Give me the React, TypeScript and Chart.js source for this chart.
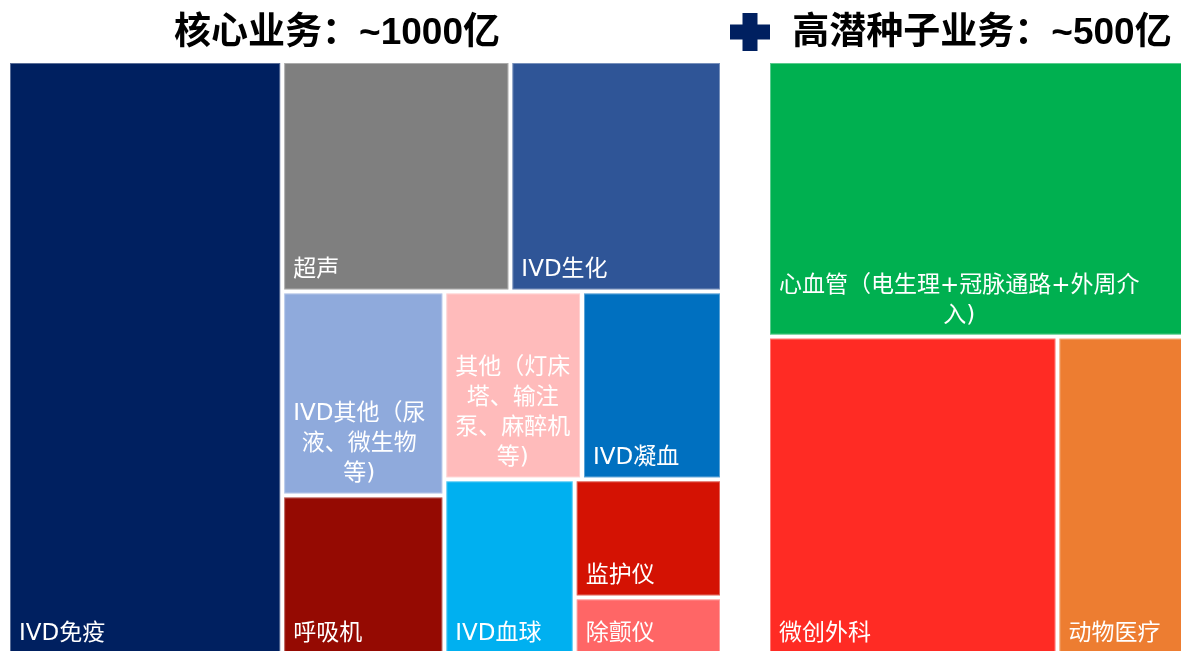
import { useEffect, useRef } from 'react';
import { Chart, registerables } from 'chart.js';

Chart.register(...registerables);

// ---- Data ----
const coreTitle = '核心业务：~1000亿';
const coreLabels: string[][] = [
  ['IVD免疫'],
  ['超声'],
  ['IVD生化'],
  ['IVD其他（尿', '液、微生物', '等)'],
  ['呼吸机'],
  ['其他（灯床', '塔、输注', '泵、麻醉机', '等)'],
  ['IVD凝血'],
  ['IVD血球'],
  ['监护仪'],
  ['除颤仪'],
];
const coreValues = [384, 124, 115, 78, 61, 61, 62, 54, 41, 20];
const coreColors = ['#002060', '#7F7F7F', '#2F5597', '#8FAADC', '#950A02', '#FFBBBB', '#0070C0', '#00B0F0', '#D41203', '#FF6666'];

const seedTitle = '高潜种子业务：~500亿';
const seedLabels: string[][] = [
  ['心血管（电生理+冠脉通路+外周介', '入)'],
  ['微创外科'],
  ['动物医疗'],
];
const seedValues = [232, 186, 82];
const seedColors = ['#00B050', '#FF2B24', '#ED7D31'];

// ---- Layout structure (nesting of slices) ----
type Node = number | { dir: 'h' | 'v'; children: Node[] };
const coreTree: Node = {
  dir: 'h',
  children: [
    0,
    {
      dir: 'v',
      children: [
        { dir: 'h', children: [1, 2] },
        {
          dir: 'h',
          children: [
            { dir: 'v', children: [3, 4] },
            {
              dir: 'v',
              children: [
                { dir: 'h', children: [5, 6] },
                { dir: 'h', children: [7, { dir: 'v', children: [8, 9] }] },
              ],
            },
          ],
        },
      ],
    },
  ],
};
const seedTree: Node = { dir: 'v', children: [0, { dir: 'h', children: [1, 2] }] };

// group frames in axis units
const coreFrame = { x0: 8, x1: 722, y0: 61, y1: 655 };
const seedFrame = { x0: 768, x1: 1185, y0: 61, y1: 655 };

type Rect = { x0: number; y0: number; x1: number; y1: number };

function nodeSum(n: Node, vals: number[]): number {
  if (typeof n === 'number') return vals[n];
  return n.children.reduce((a, c) => a + nodeSum(c, vals), 0);
}

function layoutTree(n: Node, vals: number[], r: Rect, out: Rect[]) {
  if (typeof n === 'number') {
    out[n] = r;
    return;
  }
  const total = nodeSum(n, vals);
  let pos = n.dir === 'h' ? r.x0 : r.y0;
  const span = n.dir === 'h' ? r.x1 - r.x0 : r.y1 - r.y0;
  for (const c of n.children) {
    const s = (nodeSum(c, vals) / total) * span;
    if (n.dir === 'h') layoutTree(c, vals, { x0: pos, x1: pos + s, y0: r.y0, y1: r.y1 }, out);
    else layoutTree(c, vals, { x0: r.x0, x1: r.x1, y0: pos, y1: pos + s }, out);
    pos += s;
  }
}

const LABEL_FONT = '"DejaVu Sans", "Noto Sans CJK SC", sans-serif';
const TITLE_FONT = '"Liberation Sans", "Noto Sans CJK SC", sans-serif';

const treemapPlugin = {
  id: 'treemapDraw',
  afterDraw(chart: any) {
    const ctx: CanvasRenderingContext2D = chart.ctx;
    const xs = chart.scales.x;
    const ys = chart.scales.y;
    const groups = [
      { tree: coreTree, vals: coreValues, labels: coreLabels, colors: coreColors, frame: coreFrame },
      { tree: seedTree, vals: seedValues, labels: seedLabels, colors: seedColors, frame: seedFrame },
    ];
    ctx.save();
    for (const g of groups) {
      const rects: Rect[] = [];
      layoutTree(g.tree, g.vals, g.frame, rects);
      rects.forEach((r, i) => {
        const px0 = xs.getPixelForValue(r.x0) + 2;
        const px1 = xs.getPixelForValue(r.x1) - 2;
        const py0 = ys.getPixelForValue(r.y0) + 2;
        const py1 = ys.getPixelForValue(r.y1) - 2;
        ctx.fillStyle = g.colors[i];
        ctx.fillRect(px0, py0, px1 - px0, py1 - py0);
        ctx.strokeStyle = 'rgba(255,255,255,0.35)';
        ctx.lineWidth = 1;
        ctx.strokeRect(px0 + 0.5, py0 + 0.5, px1 - px0 - 1, py1 - py0 - 1);
        // label
        const lines = g.labels[i];
        ctx.font = `400 23px ${LABEL_FONT}`;
        ctx.fillStyle = '#FFFFFF';
        ctx.textAlign = 'center';
        ctx.textBaseline = 'middle';
        const maxW = Math.max(...lines.map((l) => ctx.measureText(l).width));
        const cx = px0 + 9 + maxW / 2;
        const n = lines.length;
        lines.forEach((l, k) => {
          const y = py1 - 19 - (n - 1 - k) * 30;
          ctx.fillText(l, cx, y);
        });
      });
    }
    // titles
    ctx.fillStyle = '#000000';
    ctx.font = `700 37px ${TITLE_FONT}`;
    ctx.textAlign = 'center';
    ctx.textBaseline = 'middle';
    ctx.fillText(coreTitle, xs.getPixelForValue(337), ys.getPixelForValue(34));
    ctx.fillText(seedTitle, xs.getPixelForValue(982), ys.getPixelForValue(34));
    // plus sign
    const pcx = xs.getPixelForValue(750);
    const pcy = ys.getPixelForValue(32);
    ctx.fillStyle = '#002060';
    ctx.fillRect(pcx - 20, pcy - 7.5, 40, 15);
    ctx.fillRect(pcx - 7.5, pcy - 19, 15, 38);
    ctx.restore();
  },
};

export default function App() {
  const ref = useRef<HTMLCanvasElement | null>(null);
  useEffect(() => {
    if (!ref.current) return;
    const chart = new Chart(ref.current, {
      type: 'scatter',
      data: { datasets: [{ label: 'treemap', data: [] }] },
      options: {
        animation: false,
        responsive: false,
        layout: { padding: 0 },
        events: [],
        scales: {
          x: { type: 'linear', min: 0, max: 1181, display: false },
          y: { type: 'linear', min: 0, max: 651, reverse: true, display: false },
        },
        plugins: { legend: { display: false }, tooltip: { enabled: false }, title: { display: false } },
      },
      plugins: [treemapPlugin],
    });
    return () => chart.destroy();
  }, []);
  return (
    <div style={{ position: 'fixed', left: 0, top: 0, width: 1181, height: 651, background: '#fff' }}>
      <canvas ref={ref} width={1181} height={651} style={{ display: 'block' }} />
    </div>
  );
}
